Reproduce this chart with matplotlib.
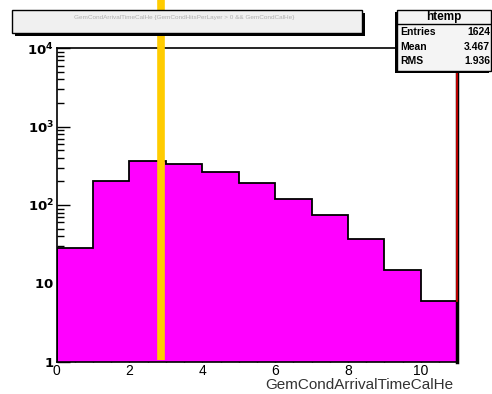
import numpy as np
import matplotlib.pyplot as plt
from matplotlib.patches import Rectangle
from matplotlib.ticker import MultipleLocator, LogLocator, NullFormatter, FixedLocator

plt.rcParams['font.family'] = ['Liberation Sans', 'DejaVu Sans']

# contenido del histograma (bins de ancho 1 entre 0 y 11)
bordes = np.arange(0, 12)
cuentas = [28, 200, 360, 330, 262, 192, 118, 75, 37, 15, 6]
x_corte = 2.86  # linea amarilla
ylabels = ['$\\mathbf{1}$', '$\\mathbf{10}$', '$\\mathbf{10^{2}}$', '$\\mathbf{10^{3}}$', '$\\mathbf{10^{4}}$']
xlabel = 'GemCondArrivalTimeCalHe'
stats = [('Entries', '1624'), ('Mean', '3.467'), ('RMS', '1.936')]

fig = plt.figure(figsize=(4.92, 3.94), dpi=100)
ax = fig.add_axes([0.1152, 0.082, 0.814, 0.7955])

ax.stairs(cuentas, bordes, fill=True, color='#ff00ff', zorder=2)
ax.stairs(cuentas, bordes, color='black', lw=1.3, zorder=3)
ax.set_yscale('log')
ax.set_xlim(0, 11)
ax.set_ylim(1, 1e4)

# ejes estilo ROOT
ax.xaxis.set_major_locator(MultipleLocator(2))
ax.xaxis.set_minor_locator(MultipleLocator(0.5))
ax.yaxis.set_major_locator(FixedLocator([1, 10, 100, 1000, 10000]))
ax.yaxis.set_minor_locator(LogLocator(base=10, subs=np.arange(2, 10)))
ax.yaxis.set_minor_formatter(NullFormatter())
ax.set_yticklabels(ylabels, fontsize=9.5)
ax.tick_params(axis='both', which='both', direction='in', top=False, right=False)
ax.tick_params(axis='x', which='major', length=9, width=1, labelsize=10, pad=2)
ax.tick_params(axis='x', which='minor', length=5, width=1)
ax.tick_params(axis='y', which='major', length=9, width=1, pad=2)
ax.tick_params(axis='y', which='minor', length=5, width=1)
for s in ax.spines.values():
    s.set_linewidth(1.2)
ax.spines['right'].set_linewidth(2.5)

# linea roja en el borde derecho
ax.plot([11, 11], [cuentas[-1], 1e4], color='#dd0000', lw=1.2, zorder=5, clip_on=False)

fig.text(453 / 492, 1 - 385 / 394, xlabel, ha='right', va='center',
         fontsize=11, color='#333333')

# linea amarilla
ax.plot([x_corte, x_corte], [1.05, 5e4], color='#ffcc00', lw=5.5,
        solid_capstyle='butt', zorder=10, clip_on=False)

# caja del titulo
fig.patches.append(Rectangle((15 / 492, 1 - 36 / 394), 350 / 492, 23 / 394,
                             transform=fig.transFigure, facecolor='black', zorder=1))
fig.patches.append(Rectangle((12 / 492, 1 - 33 / 394), 350 / 492, 23 / 394,
                             transform=fig.transFigure, facecolor='#f0f0f0',
                             edgecolor='black', lw=1.0, zorder=2))
fig.text(184 / 492, 1 - 17.5 / 394, 'GemCondArrivalTimeCalHe {GemCondHitsPerLayer > 0 && GemCondCalHe}',
         ha='center', va='center', fontsize=4.6, color='#b0b0b0', zorder=3)

# caja de estadisticas
bx0, bx1 = 397 / 492, 491 / 492
by0, by1 = 1 - 71 / 394, 1 - 10 / 394
fig.patches.append(Rectangle((bx0 - 2 / 492, by0 - 2 / 394), bx1 - bx0, by1 - by0,
                             transform=fig.transFigure, facecolor='black', zorder=1))
fig.patches.append(Rectangle((bx0, by0), bx1 - bx0, by1 - by0,
                             transform=fig.transFigure, facecolor='#f4f4f4',
                             edgecolor='black', lw=1.0, zorder=2))
fig.lines.append(plt.Line2D([bx0, bx1], [1 - 24 / 394] * 2, transform=fig.transFigure,
                            color='black', lw=1.0, zorder=3))
fig.text((bx0 + bx1) / 2, 1 - 17 / 394, 'htemp', ha='center', va='center',
         fontsize=8.5, fontweight='bold', zorder=4)
for i, (k, v) in enumerate(stats):
    yy = 1 - (32 + i * 14.5) / 394
    fig.text(bx0 + 3 / 492, yy, k, ha='left', va='center', fontsize=7.5,
             fontweight='bold', zorder=4)
    fig.text(bx1 - 1 / 492, yy, v, ha='right', va='center', fontsize=7.5,
             fontweight='bold', zorder=4)

fig.savefig('out.png', dpi=100)
